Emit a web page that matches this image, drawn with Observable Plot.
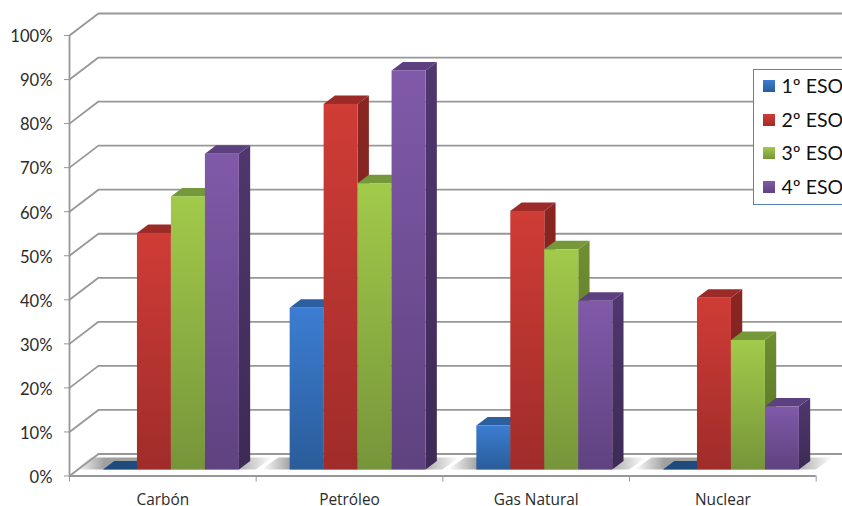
<!DOCTYPE html>
<html lang="es">
<head>
<meta charset="utf-8">
<script src="https://cdn.jsdelivr.net/npm/d3@7"></script>
<script src="https://cdn.jsdelivr.net/npm/@observablehq/plot@0.6"></script>
<style>
  html, body { margin: 0; padding: 0; background: #fff; overflow: hidden; }
  #chart { position: relative; width: 842px; height: 506px; overflow: hidden; }
  #legend {
    position: absolute; left: 752.5px; top: 68.5px; width: 120px; height: 134px;
    background: #fff; border: 1.5px solid #5a82b6;
    font: 19.5px Lato, sans-serif; color: #111;
  }
  #legend div { position: absolute; left: 28px; line-height: 20px; white-space: nowrap; }
  #legend i { position: absolute; left: -19px; top: 4px; width: 12px; height: 12px; display: block; }
</style>
</head>
<body>
<div id="chart"></div>
<script>
// Encuesta por curso: porcentaje de alumnos para cada fuente de energía.
const categories = ["Carbón", "Petróleo", "Gas Natural", "Nuclear"];
const grades = ["1º ESO", "2º ESO", "3º ESO", "4º ESO"];
const eso1 = [0, 36.7, 10, 0];
const eso2 = [53.7, 83, 58.7, 39];
const eso3 = [62, 65, 50, 29.4];
const eso4 = [71.7, 90.6, 38.3, 14.3];
const series = [eso1, eso2, eso3, eso4];
const percentTicks = d3.range(0, 101, 10);

// Tonos de cada curso: cara frontal (arriba, abajo), lateral (arriba, abajo) y tapa.
const shades = [
  {front: ["#3c7dd2", "#2a5c9a"], side: ["#2a5a98", "#1f4674"], top: "#2c5f9f"},
  {front: ["#d03c36", "#9f2c2a"], side: ["#8b2622", "#6f1f1d"], top: "#9c2b28"},
  {front: ["#a2ca4a", "#76953a"], side: ["#6f8f30", "#566f26"], top: "#75983a"},
  {front: ["#805aa9", "#5f4280"], side: ["#50376f", "#3d2a55"], top: "#5c407f"}
];

// Proyección oblicua expresada en unidades de datos (categorías en x, % en y).
const wallDx = 0.155, wallDy = 5;
const barDx = 0.0605, barDy = 1.93;
const floorDy = 1.36;
const barW = 0.182, groupStart = 0.182;

// Definiciones de degradados para caras y sombra del suelo.
function gradientDefs() {
  const defs = d3.create("svg:defs");
  const add = (id, stops, horizontal) => {
    const g = defs.append("linearGradient").attr("id", id)
      .attr("x1", 0).attr("y1", 0)
      .attr("x2", horizontal ? 1 : 0).attr("y2", horizontal ? 0 : 1);
    stops.forEach(([o, c, a = 1]) =>
      g.append("stop").attr("offset", o).attr("stop-color", c).attr("stop-opacity", a));
  };
  shades.forEach((s, k) => {
    add(`front${k}`, [[0, s.front[0]], [1, s.front[1]]]);
    add(`side${k}`, [[0, s.side[0]], [1, s.side[1]]]);
  });
  add("floorShadow", [[0, "#a0a0a0", 0], [0.15, "#a0a0a0", 1], [0.8, "#a0a0a0", 1], [1, "#a0a0a0", 0]], true);
  return defs.node();
}

// Paredes: cada rejilla sube en diagonal desde el eje y recorre el fondo.
const gridPoints = percentTicks.flatMap((v) => [
  {v, x: 0, y: v},
  {v, x: wallDx, y: v + wallDy},
  {v, x: 4 + wallDx, y: v + wallDy}
]);
const floorPoints = [
  {y: 0, x1: 0, x2: 4},
  {y: wallDy, x1: wallDx, x2: 4 + wallDx}
];

// Sombra difusa bajo cada grupo de barras.
const shadowMarks = categories.map((_, i) => {
  const x0 = i + 0.03, x1 = i + groupStart + 4 * barW + 0.09;
  return Plot.areaX([
    {y: floorDy, x1: x0, x2: x1},
    {y: floorDy + 2.7, x1: x0 + 0.09, x2: x1 + 0.09}
  ], {y: "y", x1: "x1", x2: "x2", fill: "url(#floorShadow)"});
});

// Barras de izquierda a derecha: cada cara frontal tapa el lateral de la anterior.
const barMarks = categories.flatMap((_, i) => grades.flatMap((_, k) => {
  const v = series[k][i];
  const a = i + groupStart + k * barW, b = a + barW;
  const y0 = floorDy, y1 = floorDy + v;
  const out = [];
  if (v > 0) {
    out.push(Plot.areaY([
      {x: b, y1: y0, y2: y1},
      {x: b + barDx, y1: y0 + barDy, y2: y1 + barDy}
    ], {x: "x", y1: "y1", y2: "y2", fill: `url(#side${k})`}));
  }
  out.push(Plot.areaX([
    {y: y1, x1: a, x2: b},
    {y: y1 + barDy, x1: a + barDx, x2: b + barDx}
  ], {y: "y", x1: "x1", x2: "x2", fill: v > 0 ? shades[k].top : "#1f4a7e"}));
  if (v > 0) {
    out.push(Plot.rect([{a, b, y0, y1}], {x1: "a", x2: "b", y1: "y0", y2: "y1", fill: `url(#front${k})`}));
  }
  return out;
}));

const gridColor = "#979797";
const plot = Plot.plot({
  width: 842,
  height: 506,
  marginLeft: 69,
  marginRight: 26.3,
  marginTop: 35,
  marginBottom: 30.5,
  style: {background: "#fff", fontFamily: "Lato, sans-serif", overflow: "hidden"},
  x: {type: "linear", domain: [0, 4]},
  y: {domain: [0, 100]},
  marks: [
    gradientDefs,
    Plot.areaX(floorPoints, {y: "y", x1: "x1", x2: "x2", fill: "#fff"}),
    Plot.line(gridPoints, {x: "x", y: "y", z: "v", stroke: gridColor, strokeWidth: 1.8, strokeLinejoin: "miter"}),
    ...shadowMarks,
    ...barMarks,
    Plot.ruleX([0], {y1: 0, y2: 100, stroke: gridColor, strokeWidth: 1.8}),
    Plot.ruleY([0], {x1: 0, x2: 4, stroke: gridColor, strokeWidth: 2.2}),
    Plot.axisY({
      ticks: percentTicks, tickFormat: () => "", label: null,
      tickSize: 5, stroke: gridColor
    }),
    Plot.axisY({
      ticks: percentTicks, tickFormat: (d) => `${d}%`, label: null,
      tickSize: 0, tickPadding: 17, fill: "#2b2b2b", fontSize: 16.6, dy: 1.5
    }),
    Plot.axisX({
      ticks: d3.range(0, 5), tickFormat: () => "", label: null,
      tickSize: 6, stroke: gridColor
    }),
    Plot.axisX({
      ticks: categories.map((_, i) => i + 0.5),
      tickFormat: (d) => categories[Math.floor(d)], label: null,
      tickSize: 0, tickPadding: 18, fill: "#2b2b2b", fontSize: 15.4,
      fontFamily: "'Open Sans', sans-serif"
    })
  ]
});

const chart = document.getElementById("chart");
chart.append(plot);

// Leyenda sobre el área del gráfico.
const legend = d3.select(chart).append("div").attr("id", "legend");
const rowTops = [6, 40, 73, 107];
grades.forEach((g, k) => {
  const row = legend.append("div").style("top", `${rowTops[k]}px`).text(g);
  row.append("i").style("background", `linear-gradient(${shades[k].front[0]}, ${shades[k].front[1]})`);
});
</script>
</body>
</html>
